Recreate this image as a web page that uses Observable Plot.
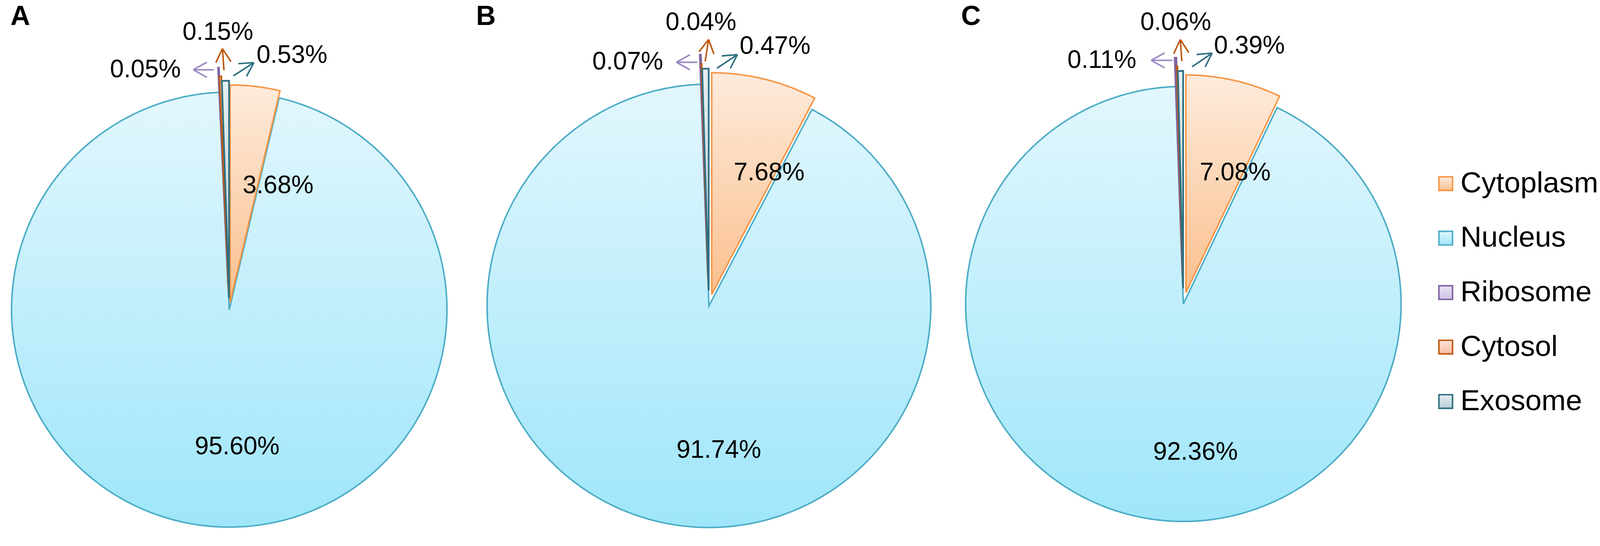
<!DOCTYPE html>
<html>
<head>
<meta charset="utf-8">
<script src="https://cdn.jsdelivr.net/npm/d3@7"></script>
<script src="https://cdn.jsdelivr.net/npm/@observablehq/plot@0.6"></script>
<style>
html, body { margin: 0; padding: 0; background: #ffffff; overflow: hidden; }
#chart svg { display: block; }
</style>
</head>
<body>
<div id="chart"></div>
<script>
// ---------------- data ----------------
const panels = ["A", "B", "C"];
const categories = ["Cytoplasm", "Nucleus", "Ribosome", "Cytosol", "Exosome"];
const valuesA = [3.68, 95.60, 0.05, 0.15, 0.53];
const valuesB = [7.68, 91.74, 0.07, 0.04, 0.47];
const valuesC = [7.08, 92.36, 0.11, 0.06, 0.39];
const seriesValues = [valuesA, valuesB, valuesC];

// ---------------- layout ----------------
const W = 4226, H = 1399;
const pieCenterX = [605, 1872, 3125];
const pieCenterY = [818, 808, 803];
const pieRadius = [575, 586, 575];
// explosion distance of each slice (same order as categories)
const explodeOffsets = [
  [19, 0, 65, 42, 30],
  [31, 0, 78, 54, 41],
  [31, 0, 76, 54, 41]
];
const panelLetterX = [27, 1257, 2538];
const panelLetterBaseline = 66;

// label anchor offsets from the pie centre [dx, dy(baseline)]
const cytoplasmLabelOffset = [[129, -308], [159, -332], [137, -327]];
const nucleusLabelOffset = [[21, 382], [26, 402], [32, 412]];
// small slices: Ribosome (end-anchored), Cytosol (centred), Exosome (start-anchored)
const smallCategories = ["Ribosome", "Cytosol", "Exosome"];
const smallAnchors = ["end", "middle", "start"];
const smallLabelOffset = [
  [[-128, -614], [-30, -713], [72, -652]],
  [[-121, -625], [-21, -729], [81, -666]],
  [[-124, -624], [-20, -724], [81, -662]]
];
const arrowFrom = [
  [[-41, -634], [-14, -633], [11, -618]],
  [[-31, -644], [-10, -646], [21, -628]],
  [[-29, -644], [-4, -642], [23, -627]]
];
const arrowTo = [
  [[-95, -634], [-18, -690], [65, -653]],
  [[-86, -644], [-1, -704], [75, -664]],
  [[-85, -644], [-8, -699], [76, -663]]
];
const arrowHeadLength = 41;
const arrowHeadHalfAngle = 29 * Math.PI / 180;

const legendX = 3818, legendTextX = 3857, legendTop = 485, legendStep = 144;

// ---------------- styles ----------------
const strokeColors = {Cytoplasm: "#f79646", Nucleus: "#4bacc6", Ribosome: "#8064a2", Cytosol: "#c0580f", Exosome: "#2e6f80"};
const strokeWidths = {Cytoplasm: 4, Nucleus: 4, Ribosome: 5, Cytosol: 4, Exosome: 4.5};
const gradTop = {Cytoplasm: "#fdebdc", Nucleus: "#e2f7fd", Ribosome: "#e9e3f4", Cytosol: "#fde4db", Exosome: "#e6eff3"};
const gradBottom = {Cytoplasm: "#fbc08e", Nucleus: "#9fe6fa", Ribosome: "#cec2e6", Cytosol: "#f9bea6", Exosome: "#b6ccd6"};
const arrowColors = {Ribosome: "#9c87c4", Cytosol: "#c0580f", Exosome: "#2e6f80"};
const font = "'Liberation Sans', Arial, Helvetica, sans-serif";

// ---------------- derived geometry ----------------
const slicePoints = [];
panels.forEach((p, pi) => {
  const cx = pieCenterX[pi], cy = pieCenterY[pi], r = pieRadius[pi];
  const arcs = d3.pie().sort(null).value(d => d)(seriesValues[pi]);
  arcs.forEach((a, ci) => {
    const mid = (a.startAngle + a.endAngle) / 2;
    const e = explodeOffsets[pi][ci];
    const ax = cx + e * Math.sin(mid), ay = cy - e * Math.cos(mid);
    const key = p + "-" + categories[ci];
    const cat = categories[ci];
    slicePoints.push({key, category: cat, x: ax, y: ay});
    const n = Math.max(2, Math.ceil((a.endAngle - a.startAngle) * 180 / Math.PI * 2));
    for (let k = 0; k <= n; k++) {
      const t = a.startAngle + (a.endAngle - a.startAngle) * k / n;
      slicePoints.push({key, category: cat, x: ax + r * Math.sin(t), y: ay - r * Math.cos(t)});
    }
  });
});

const bigLabels = [];
panels.forEach((p, pi) => {
  const cx = pieCenterX[pi], cy = pieCenterY[pi];
  bigLabels.push({x: cx + cytoplasmLabelOffset[pi][0], y: cy + cytoplasmLabelOffset[pi][1], text: seriesValues[pi][0].toFixed(2) + "%"});
  bigLabels.push({x: cx + nucleusLabelOffset[pi][0], y: cy + nucleusLabelOffset[pi][1], text: seriesValues[pi][1].toFixed(2) + "%"});
});

const smallLabels = [];
const arrowSegments = [];
panels.forEach((p, pi) => {
  const cx = pieCenterX[pi], cy = pieCenterY[pi];
  smallCategories.forEach((cat, si) => {
    const ci = categories.indexOf(cat);
    smallLabels.push({
      x: cx + smallLabelOffset[pi][si][0], y: cy + smallLabelOffset[pi][si][1],
      text: seriesValues[pi][ci].toFixed(2) + "%", anchor: smallAnchors[si]
    });
    const x1 = cx + arrowFrom[pi][si][0], y1 = cy + arrowFrom[pi][si][1];
    const x2 = cx + arrowTo[pi][si][0], y2 = cy + arrowTo[pi][si][1];
    arrowSegments.push({category: cat, x1, y1, x2, y2});
    const len = Math.hypot(x2 - x1, y2 - y1);
    const ux = (x1 - x2) / len, uy = (y1 - y2) / len;
    for (const s of [-1, 1]) {
      const th = s * arrowHeadHalfAngle;
      const wx = ux * Math.cos(th) - uy * Math.sin(th);
      const wy = ux * Math.sin(th) + uy * Math.cos(th);
      arrowSegments.push({category: cat, x1: x2, y1: y2, x2: x2 + arrowHeadLength * wx, y2: y2 + arrowHeadLength * wy});
    }
  });
});

const legendRows = categories.map((c, i) => ({category: c, y: legendTop + i * legendStep}));
const letterRows = panels.map((p, pi) => ({text: p, x: panelLetterX[pi], y: panelLetterBaseline}));

// ---------------- marks ----------------
const drawOrder = ["Nucleus", "Cytoplasm", "Ribosome", "Cytosol", "Exosome"];
const marks = [];
for (const cat of drawOrder) {
  marks.push(Plot.line(slicePoints.filter(d => d.category === cat), {
    x: "x", y: "y", z: "key", curve: "linear-closed",
    fill: `url(#grad-${cat})`, stroke: strokeColors[cat], strokeWidth: strokeWidths[cat],
    strokeLinejoin: "miter", strokeMiterlimit: 4
  }));
}
for (const cat of smallCategories) {
  marks.push(Plot.link(arrowSegments.filter(d => d.category === cat), {
    x1: "x1", y1: "y1", x2: "x2", y2: "y2",
    stroke: arrowColors[cat], strokeWidth: 4, strokeLinecap: "butt"
  }));
}
marks.push(Plot.text(bigLabels, {x: "x", y: "y", text: "text", textAnchor: "middle", lineAnchor: "bottom",
  fontSize: 66, fontFamily: font, fill: "#000"}));
for (const anchor of smallAnchors) {
  marks.push(Plot.text(smallLabels.filter(d => d.anchor === anchor), {x: "x", y: "y", text: "text", textAnchor: anchor,
    lineAnchor: "bottom", fontSize: 66, fontFamily: font, fill: "#000"}));
}
marks.push(Plot.text(letterRows, {x: "x", y: "y", text: "text", textAnchor: "start", lineAnchor: "bottom",
  fontSize: 72, fontWeight: "bold", fontFamily: font, fill: "#000"}));
for (const cat of categories) {
  marks.push(Plot.dot(legendRows.filter(d => d.category === cat), {
    x: () => legendX, y: "y", symbol: "square", r: 20.3,
    fill: `url(#grad-${cat})`, stroke: strokeColors[cat], strokeWidth: 4
  }));
}
marks.push(Plot.text(legendRows, {x: () => legendTextX, y: d => d.y + 23, text: "category", textAnchor: "start",
  lineAnchor: "bottom", fontSize: 77, fontFamily: font, fill: "#000"}));

const chart = Plot.plot({
  width: W, height: H,
  marginTop: 0, marginRight: 0, marginBottom: 0, marginLeft: 0,
  x: {type: "linear", domain: [0, W], range: [0, W], axis: null},
  y: {type: "linear", domain: [0, H], range: [0, H], axis: null},
  style: {background: "#ffffff", fontFamily: font, overflow: "hidden"},
  marks
});

const svgEl = chart.tagName.toLowerCase() === "svg" ? chart : chart.querySelector("svg");
const defs = d3.select(svgEl).insert("defs", ":first-child");
for (const cat of categories) {
  const g = defs.append("linearGradient").attr("id", `grad-${cat}`)
    .attr("x1", 0).attr("y1", 0).attr("x2", 0).attr("y2", 1);
  g.append("stop").attr("offset", 0).attr("stop-color", gradTop[cat]);
  g.append("stop").attr("offset", 1).attr("stop-color", gradBottom[cat]);
}
document.getElementById("chart").appendChild(chart);
</script>
</body>
</html>
